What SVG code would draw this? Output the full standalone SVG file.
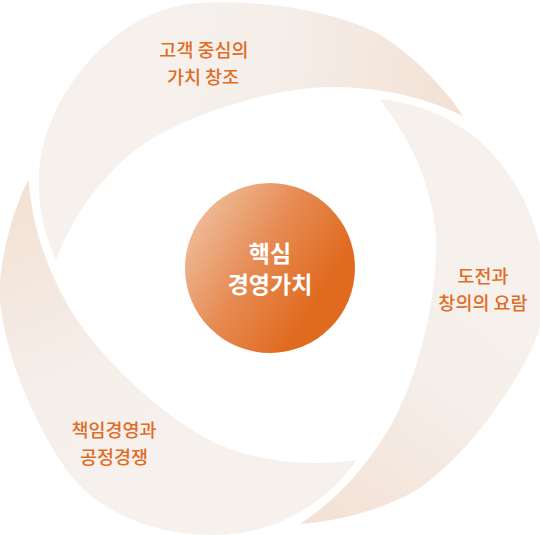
<svg xmlns="http://www.w3.org/2000/svg" width="540" height="535" viewBox="0 0 540 535">
<style>
.blade{fill:url(#bladeGrad)}
.label{font-family:"Noto Sans CJK KR","Noto Sans",sans-serif;font-size:18.5px;font-weight:500;fill:#e06c26;text-anchor:middle}
.core-text{font-family:"Noto Sans CJK KR","Noto Sans",sans-serif;font-size:23px;font-weight:700;fill:#ffffff;text-anchor:middle}
</style>
<defs>
<linearGradient id="bladeGrad" gradientUnits="userSpaceOnUse" x1="170" y1="80" x2="460" y2="115">
<stop offset="0" stop-color="#f6f1ed"/>
<stop offset="0.35" stop-color="#f5eee9"/>
<stop offset="1" stop-color="#f3e1d4"/>
</linearGradient>
<linearGradient id="coreGrad" x1="0.1" y1="0.2" x2="0.8" y2="0.65">
<stop offset="0" stop-color="#eeb893"/>
<stop offset="0.5" stop-color="#e68a52"/>
<stop offset="1" stop-color="#e06b20"/>
</linearGradient>
<path id="bladeShape" class="blade" d="M56,260 C44,235 38,205 39,180 C39,100 115,6 200,3 C250,0 325,7 377,33 C410,52 445,88 463,116 C430,100 390,88 337,87 C280,86 200,110 150,140 C110,165 75,210 56,260 Z"/>
</defs>
<g id="node-customer">
<use href="#bladeShape"/>
<text class="label" x="204" y="57">고객 중심의</text>
<text class="label" x="203" y="84">가치 창조</text>
</g>
<g id="node-challenge">
<use href="#bladeShape" transform="rotate(120 264 273)"/>
<text class="label" x="483" y="283">도전과</text>
<text class="label" x="483" y="310">창의의 요람</text>
</g>
<g id="node-responsibility">
<use href="#bladeShape" transform="rotate(240 264 273)"/>
<text class="label" x="114" y="437">책임경영과</text>
<text class="label" x="114" y="464">공정경쟁</text>
</g>
<g id="node-core">
<circle cx="270" cy="268" r="85" fill="url(#coreGrad)"/>
<text class="core-text" x="270" y="262">핵심</text>
<text class="core-text" x="270" y="293">경영가치</text>
</g>
</svg>
